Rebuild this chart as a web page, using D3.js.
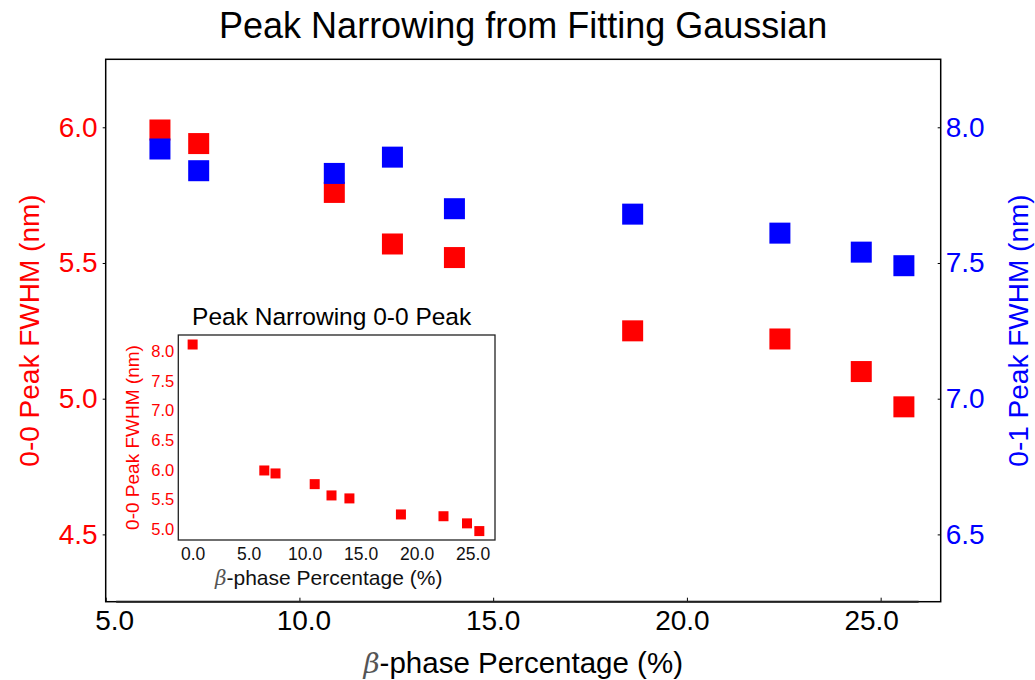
<!DOCTYPE html>
<html>
<head>
<meta charset="utf-8">
<script src="https://cdn.jsdelivr.net/npm/d3@7"></script>
<style>
  html, body { margin: 0; padding: 0; background: #fff; }
  svg { display: block; font-family: "Liberation Sans", Arial, Helvetica, sans-serif; }
</style>
</head>
<body>
<svg id="chart" width="1035" height="680"></svg>
<script>
// ---- data ----
const betaPct = [6.4, 7.4, 10.9, 12.4, 14.0, 18.6, 22.4, 24.5, 25.6];
const fwhm00 = [5.99, 5.94, 5.76, 5.57, 5.52, 5.25, 5.22, 5.10, 4.97];
const fwhm01 = [7.92, 7.84, 7.83, 7.89, 7.70, 7.68, 7.61, 7.54, 7.49];
const betaPctInset = [0.0, 6.4, 7.4, 10.9, 12.4, 14.0, 18.6, 22.4, 24.5, 25.6];
const fwhm00Inset = [8.11, 5.99, 5.94, 5.76, 5.57, 5.52, 5.25, 5.22, 5.10, 4.97];
const xTicks = [5, 10, 15, 20, 25];
const yLeftTicks = [4.5, 5.0, 5.5, 6.0];
const yRightTicks = [6.5, 7.0, 7.5, 8.0];
const insetXTicks = [0, 5, 10, 15, 20, 25];
const insetYTicks = [5.0, 5.5, 6.0, 6.5, 7.0, 7.5, 8.0];

const svg = d3.select("#chart");
const fmt = d3.format(".1f");
const FF = "'Liberation Sans', Arial, sans-serif";

// ---- main axes ----
const M = { left: 105.7, right: 940.7, top: 59.3, bottom: 601.7 };
const x = d3.scaleLinear().domain([5.0, 26.55]).range([M.left, M.right]);
const yL = d3.scaleLinear().domain([4.252, 6.2505]).range([M.bottom, M.top]);
const yR = d3.scaleLinear().domain([6.252, 8.2505]).range([M.bottom, M.top]);
const xLabelPos = d3.scaleLinear().domain([5, 25]).range([x(5) + 9, x(25) - 9]);

const main = svg.append("g");
main.append("rect").attr("x", M.left).attr("y", M.top)
  .attr("width", M.right - M.left).attr("height", M.bottom - M.top)
  .attr("fill", "#fff").attr("stroke", "#000").attr("stroke-width", 1.5);

// bottom ticks (inward)
const gx = main.append("g").attr("transform", `translate(0,${M.bottom})`)
  .call(d3.axisBottom(x).tickValues(xTicks).tickSizeInner(-4).tickSizeOuter(0).tickFormat(""));
gx.select(".domain").remove();
gx.selectAll("line").attr("stroke", "#000");
main.append("line").attr("x1", x(5.27)).attr("x2", x(25.98))
  .attr("y1", M.bottom).attr("y2", M.bottom).attr("stroke", "#222").attr("stroke-width", 2);
main.append("g").selectAll("text").data(xTicks).join("text")
  .attr("x", d => xLabelPos(d)).attr("y", 629.5)
  .attr("text-anchor", "middle").attr("font-size", 28).attr("fill", "#000")
  .text(d => fmt(d));

// left axis
const gl = main.append("g").attr("transform", `translate(${M.left},0)`)
  .call(d3.axisLeft(yL).tickValues(yLeftTicks).tickSize(3).tickPadding(5).tickFormat(fmt));
gl.select(".domain").remove();
gl.selectAll("line").attr("stroke", "#000");
gl.selectAll("text").attr("font-size", 28).attr("fill", "#ff0000").attr("font-family", FF);

// right axis
const gr = main.append("g").attr("transform", `translate(${M.right},0)`)
  .call(d3.axisRight(yR).tickValues(yRightTicks).tickSize(-3).tickPadding(5).tickFormat(fmt));
gr.select(".domain").remove();
gr.selectAll("line").attr("stroke", "#000");
gr.selectAll("text").attr("font-size", 28).attr("fill", "#0000ff").attr("font-family", FF);

// markers
const S = 21;
main.append("g").selectAll("rect").data(betaPct.map((b, i) => [b, fwhm00[i]])).join("rect")
  .attr("x", d => x(d[0]) - S / 2).attr("y", d => yL(d[1]) - S / 2)
  .attr("width", S).attr("height", S).attr("fill", "#ff0000");
main.append("g").selectAll("rect").data(betaPct.map((b, i) => [b, fwhm01[i]])).join("rect")
  .attr("x", d => x(d[0]) - S / 2).attr("y", d => yR(d[1]) - S / 2)
  .attr("width", S).attr("height", S).attr("fill", "#0000ff");

// labels
const cy = (M.top + M.bottom) / 2, cx = (M.left + M.right) / 2;
svg.append("text").attr("transform", `translate(39,${cy}) rotate(-90)`)
  .attr("text-anchor", "middle").attr("font-size", 28).attr("fill", "#ff0000")
  .text("0-0 Peak FWHM (nm)");
svg.append("text").attr("transform", `translate(1028,${cy}) rotate(-90)`)
  .attr("text-anchor", "middle").attr("font-size", 28).attr("fill", "#0000ff")
  .text("0-1 Peak FWHM (nm)");
const xl = svg.append("text").attr("x", cx).attr("y", 673)
  .attr("text-anchor", "middle").attr("font-size", 29.5).attr("fill", "#000");
xl.append("tspan").attr("font-style", "italic").attr("font-family", "'DejaVu Serif', serif")
  .attr("fill", "#555").attr("font-size", 28).text("β");
xl.append("tspan").text("-phase Percentage (%)");
svg.append("text").attr("x", cx).attr("y", 38)
  .attr("text-anchor", "middle").attr("font-size", 36).attr("fill", "#000")
  .text("Peak Narrowing from Fitting Gaussian");

// ---- inset ----
const I = { left: 178.3, right: 495, top: 335, bottom: 540 };
const xi = d3.scaleLinear().domain([-1.28, 27.0]).range([I.left, I.right]);
const yi = d3.scaleLinear().domain([4.82, 8.27]).range([I.bottom, I.top]);
const inset = svg.append("g");
inset.append("rect").attr("x", I.left).attr("y", I.top)
  .attr("width", I.right - I.left).attr("height", I.bottom - I.top)
  .attr("fill", "#fff").attr("stroke", "#222").attr("stroke-width", 1.3);
const gix = inset.append("g").attr("transform", `translate(0,${I.bottom})`)
  .call(d3.axisBottom(xi).tickValues(insetXTicks).tickSize(0).tickPadding(8).tickFormat(fmt));
gix.select(".domain").remove();
gix.selectAll("text").attr("font-size", 17.5).attr("fill", "#111").attr("font-family", FF);
const giy = inset.append("g").attr("transform", `translate(${I.left},0)`)
  .call(d3.axisLeft(yi).tickValues(insetYTicks).tickSize(0).tickPadding(4).tickFormat(fmt));
giy.select(".domain").remove();
giy.selectAll("text").attr("font-size", 16.5).attr("fill", "#ff0000").attr("font-family", FF);
const si = 10;
inset.append("g").selectAll("rect").data(betaPctInset.map((b, i) => [b, fwhm00Inset[i]])).join("rect")
  .attr("x", d => xi(d[0]) - si / 2).attr("y", d => yi(d[1]) - si / 2)
  .attr("width", si).attr("height", si).attr("fill", "#ff0000");
const icx = (I.left + I.right) / 2, icy = (I.top + I.bottom) / 2;
svg.append("text").attr("x", icx - 5).attr("y", 325)
  .attr("text-anchor", "middle").attr("font-size", 24.5).attr("fill", "#000")
  .text("Peak Narrowing 0-0 Peak");
svg.append("text").attr("transform", `translate(139,${icy}) rotate(-90)`)
  .attr("text-anchor", "middle").attr("font-size", 19).attr("fill", "#ff0000")
  .text("0-0 Peak FWHM (nm)");
const ixl = svg.append("text").attr("x", icx - 8).attr("y", 585)
  .attr("text-anchor", "middle").attr("font-size", 21).attr("fill", "#111");
ixl.append("tspan").attr("font-style", "italic").attr("font-family", "'DejaVu Serif', serif")
  .attr("fill", "#555").attr("font-size", 20).text("β");
ixl.append("tspan").text("-phase Percentage (%)");
</script>
</body>
</html>
